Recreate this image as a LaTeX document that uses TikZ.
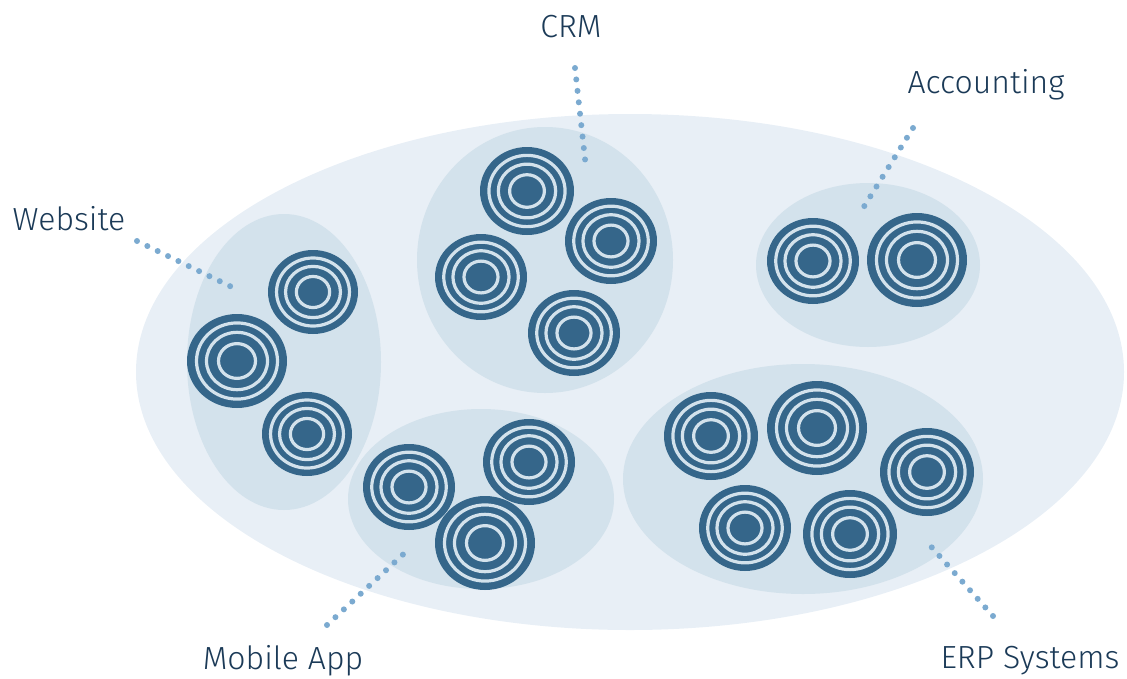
\documentclass[tikz,border=0pt]{standalone}
\usepackage{fontspec}
\setmainfont{Fira Sans Light}

\definecolor{bgblue}{HTML}{E8EFF6}
\definecolor{grpblue}{HTML}{D3E2EC}
\definecolor{discblue}{HTML}{35668A}
\definecolor{dotblue}{HTML}{7BAAD0}
\definecolor{navy}{HTML}{1B3A57}

% one data store: dark disc with three light rings
\newcommand\ringdisc[4]{%
  \fill[discblue] (#1,#2) ellipse [x radius=#3, y radius=#4];
  \foreach \f in {0.81,0.61,0.37}
    \draw[grpblue,line width=3.2pt] (#1,#2) ellipse [x radius=\f*#3, y radius=\f*#4];
}

\begin{document}
\begin{tikzpicture}[x=1pt,y=-1pt,
  cluster/.style={fill=grpblue},
  tagtext/.style={text=navy,inner sep=0pt,font=\fontsize{32}{38}\selectfont},
  leader/.style={draw=dotblue,line width=6pt,line cap=round,dash pattern=on 0pt off 11.5pt}]
\useasboundingbox (0,0) rectangle (1127,678);

% whole landscape
\fill[bgblue] (630,372) ellipse [x radius=494, y radius=258];

% clusters
\fill[cluster] (284,362) ellipse [x radius=97, y radius=148];  % website
\fill[cluster] (545,260) ellipse [x radius=128, y radius=133]; % crm
\fill[cluster] (868,265) ellipse [x radius=112, y radius=82];  % accounting
\fill[cluster] (481,499) ellipse [x radius=133, y radius=90];  % mobile app
\fill[cluster] (803,479) ellipse [x radius=180, y radius=115]; % erp

% website
\ringdisc{313}{292}{45}{42}
\ringdisc{237}{361}{50}{47}
\ringdisc{307}{434}{45}{42}
% crm
\ringdisc{527}{191}{47}{44}
\ringdisc{611}{241}{46}{43}
\ringdisc{481}{277}{46}{43}
\ringdisc{574}{333}{46}{43}
% accounting
\ringdisc{813}{261}{46}{43}
\ringdisc{917}{260}{50}{47}
% mobile app
\ringdisc{409}{487}{46}{43}
\ringdisc{529}{462}{46}{43}
\ringdisc{485}{543}{50}{47}
% erp
\ringdisc{711}{436}{47}{44}
\ringdisc{817}{428}{50}{47}
\ringdisc{927}{472}{47}{44}
\ringdisc{745}{528}{46}{43}
\ringdisc{850}{534}{47}{44}

% labels
\node[tagtext] (crm) at (571,27) {CRM};
\node[tagtext] (acct) at (986,85) {Accounting};
\node[tagtext] (web) at (69,219) {Website};
\node[tagtext] (mob) at (283,661) {Mobile App};
\node[tagtext] (erp) at (1030,661) {ERP Systems};

% leader ends
\coordinate (crm-a) at (575,68);   \coordinate (crm-b) at (586,168);
\coordinate (acct-a) at (913,128); \coordinate (acct-b) at (860,213);
\coordinate (web-a) at (137,241);  \coordinate (web-b) at (238,290);
\coordinate (mob-a) at (327,625);  \coordinate (mob-b) at (410,548);
\coordinate (erp-a) at (993,616);  \coordinate (erp-b) at (927,542);

\draw[leader] (crm-a) -- (crm-b);
\draw[leader] (acct-a) -- (acct-b);
\draw[leader] (web-a) -- (web-b);
\draw[leader] (mob-a) -- (mob-b);
\draw[leader] (erp-a) -- (erp-b);

\end{tikzpicture}
\end{document}
